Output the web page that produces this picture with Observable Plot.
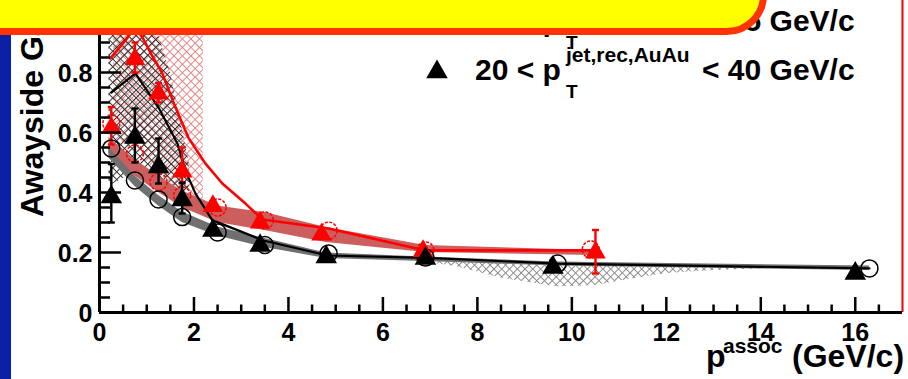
<!DOCTYPE html>
<html><head><meta charset="utf-8">
<script src="https://cdn.jsdelivr.net/npm/d3@7"></script>
<script src="https://cdn.jsdelivr.net/npm/@observablehq/plot@0.6"></script>
<style>
html,body{margin:0;padding:0;background:#fff;overflow:hidden;}
svg{display:block;}
</style></head><body><div id="chart"></div>
<script>
// ---------- data ----------
// Au+Au, 10 < pT(jet) < 15 GeV/c : red filled triangles
const redTriX  = [0.25, 0.75, 1.25, 1.75, 2.4, 3.4, 4.7, 6.85, 10.5];
const redTriY  = [0.615, 0.845, 0.73, 0.47, 0.355, 0.30, 0.26, 0.205, 0.20];
const redTriLo = [0.56, 0.80, 0.70, 0.43, 0.34, 0.29, 0.25, 0.195, 0.13];
const redTriHi = [0.685, 0.90, 0.765, 0.55, 0.37, 0.31, 0.27, 0.215, 0.275];
// red open circles
const redCircX = [0.25, 0.75, 1.25, 1.75, 2.5, 3.5, 4.85, 6.9, 10.4];
const redCircY = [0.63, 0.53, 0.435, 0.39, 0.35, 0.307, 0.273, 0.207, 0.21];
// 20 < pT(jet) < 40 GeV/c : black filled triangles
const blkTriX  = [0.25, 0.75, 1.25, 1.75, 2.4, 3.4, 4.8, 6.9, 9.6, 16.0];
const blkTriY  = [0.385, 0.583, 0.485, 0.375, 0.273, 0.223, 0.185, 0.18, 0.15, 0.13];
const blkTriLo = [0.30, 0.50, 0.43, 0.33, 0.262, 0.215, 0.178, 0.172, 0.143, 0.124];
const blkTriHi = [0.495, 0.68, 0.58, 0.433, 0.285, 0.232, 0.192, 0.188, 0.157, 0.137];
// black open circles
const blkCircX = [0.25, 0.75, 1.25, 1.75, 2.5, 3.5, 4.85, 6.9, 9.7, 16.3];
const blkCircY = [0.547, 0.44, 0.377, 0.318, 0.267, 0.225, 0.197, 0.183, 0.163, 0.147];
// red curve
const redLineX = [0.23, 0.55, 0.75, 0.91, 1.1, 1.33, 1.61, 1.88, 2.24, 2.6, 3.09, 3.45, 4.85, 6.9, 10.5];
const redLineY = [0.847, 0.907, 0.95, 0.917, 0.86, 0.797, 0.683, 0.583, 0.497, 0.43, 0.363, 0.31, 0.28, 0.207, 0.207];
// black curve
const blkLineX = [0.25, 0.76, 1.25, 1.65, 1.82, 2.03, 2.39, 2.56, 3.47, 4.83, 6.94, 9.7, 16.3];
const blkLineY = [0.733, 0.797, 0.683, 0.563, 0.473, 0.397, 0.307, 0.297, 0.24, 0.19, 0.182, 0.163, 0.147];
// red systematic band (solid)
const redBandX  = [0.2, 0.75, 1.25, 1.75, 2.5, 3.5, 4.8, 6.9, 10.5];
const redBandLo = [0.53, 0.455, 0.40, 0.35, 0.30, 0.273, 0.233, 0.20, 0.19];
const redBandHi = [0.583, 0.51, 0.455, 0.405, 0.355, 0.333, 0.283, 0.223, 0.207];
// gray systematic band (solid)
const grayBandX  = [0.2, 0.75, 1.25, 1.75, 2.5, 3.5, 4.8, 6.9, 9.7, 16.3];
const grayBandLo = [0.515, 0.42, 0.355, 0.30, 0.255, 0.217, 0.18, 0.17, 0.155, 0.14];
const grayBandHi = [0.55, 0.455, 0.39, 0.335, 0.285, 0.247, 0.198, 0.185, 0.168, 0.155];
// hatched systematic regions
const blkHatchX  = [0.2, 0.75, 1.1, 1.5, 1.9];
const blkHatchLo = [0.42, 0.47, 0.43, 0.38, 0.33];
const blkHatchHi = [1.0, 1.0, 1.0, 0.8, 0.5];
const redHatchX  = [0.3, 0.75, 1.1, 1.75, 2.2];
const redHatchLo = [0.58, 0.55, 0.48, 0.40, 0.355];
const redHatchHi = [1.0, 1.0, 1.0, 1.0, 1.0];
const grayHatchX  = [5.2, 6.5, 7.5, 8.5, 9.7, 10.5, 11.2, 12, 13, 14.5];
const grayHatchLo = [0.19, 0.175, 0.155, 0.115, 0.085, 0.09, 0.11, 0.13, 0.14, 0.148];
const grayHatchHi = [0.195, 0.185, 0.178, 0.168, 0.163, 0.162, 0.16, 0.158, 0.155, 0.152];
// axis ticks
const xTickLabels = [0, 2, 4, 6, 8, 10, 12, 14, 16];
const yTickLabels = [0, 0.2, 0.4, 0.6, 0.8];

// ---------- tables ----------
const pts = (X, Y, Lo, Hi) => X.map((x, i) => ({x, y: Y ? Y[i] : undefined, lo: Lo ? Lo[i] : undefined, hi: Hi ? Hi[i] : undefined}));
const band = (X, Lo, Hi) => X.map((x, i) => ({x, lo: Lo[i], hi: Hi[i]}));
const redTri = pts(redTriX, redTriY, redTriLo, redTriHi);
const blkTri = pts(blkTriX, blkTriY, blkTriLo, blkTriHi);
const redCirc = pts(redCircX, redCircY);
const blkCirc = pts(blkCircX, blkCircY);
const redLine = pts(redLineX, redLineY);
const blkLine = pts(blkLineX, blkLineY);

const xMinor = d3.range(0.5, 17, 0.5).filter(v => v % 2 !== 0);
const yMinor = d3.range(0.05, 1.0001, 0.05).filter(v => Math.abs(v * 5 - Math.round(v * 5)) > 1e-6);
const yMajor = [0, 0.2, 0.4, 0.6, 0.8, 1.0];

const capSymbol = {draw(ctx, size) { const w = Math.sqrt(size / Math.PI); ctx.moveTo(-w, 0); ctx.lineTo(w, 0); }};
const RED = "#ff0000";
const FONT = "'Liberation Sans', Arial, Helvetica, sans-serif";
const pxX = 803 / 17, pxY = 300; // pixels per unit (for tick lengths)

const plot = Plot.plot({
  width: 908, height: 379,
  marginLeft: 99, marginRight: 6, marginTop: 12, marginBottom: 67,
  x: {domain: [0, 17], axis: null},
  y: {domain: [0, 1], axis: null},
  style: {fontFamily: FONT, background: "white", overflow: "visible"},
  marks: [
    Plot.areaY(band(redHatchX, redHatchLo, redHatchHi), {x: "x", y1: "lo", y2: "hi", fill: "url(#hatchRed)", clip: true}),
    Plot.areaY(band(blkHatchX, blkHatchLo, blkHatchHi), {x: "x", y1: "lo", y2: "hi", fill: "url(#hatchBlack)", clip: true}),
    Plot.areaY(band(grayHatchX, grayHatchLo, grayHatchHi), {x: "x", y1: "lo", y2: "hi", fill: "url(#hatchGray)", clip: true}),
    Plot.areaY(band(redBandX, redBandLo, redBandHi), {x: "x", y1: "lo", y2: "hi", fill: "#cc5e5e"}),
    Plot.areaY(band(grayBandX, grayBandLo, grayBandHi), {x: "x", y1: "lo", y2: "hi", fill: "#707070"}),
    Plot.line(redLine, {x: "x", y: "y", stroke: RED, strokeWidth: 2.6, clip: true}),
    Plot.line(blkLine, {x: "x", y: "y", stroke: "black", strokeWidth: 2.2, clip: true}),
    // red error bars
    Plot.ruleX(redTri, {x: "x", y1: "lo", y2: "hi", stroke: RED, strokeWidth: 2.4}),
    Plot.dot(redTri, {x: "x", y: "hi", symbol: capSymbol, r: 3.5, stroke: RED, strokeWidth: 2.4}),
    Plot.dot(redTri, {x: "x", y: "lo", symbol: capSymbol, r: 3.5, stroke: RED, strokeWidth: 2.4}),
    Plot.dot(redCirc, {x: "x", y: "y", r: 8.5, stroke: RED, strokeWidth: 1.5, strokeDasharray: "3,1.5", fill: "none"}),
    Plot.dot(blkCirc, {x: "x", y: "y", r: 8.5, stroke: "black", strokeWidth: 1.5, fill: "none"}),
    Plot.dot(redTri, {x: "x", y: "y", symbol: "triangle", r: 7.6, fill: RED, stroke: "none"}),
    // black error bars
    Plot.ruleX(blkTri, {x: "x", y1: "lo", y2: "hi", stroke: "black", strokeWidth: 2.4}),
    Plot.dot(blkTri, {x: "x", y: "hi", symbol: capSymbol, r: 3.5, stroke: "black", strokeWidth: 2.4}),
    Plot.dot(blkTri, {x: "x", y: "lo", symbol: capSymbol, r: 3.5, stroke: "black", strokeWidth: 2.4}),
    Plot.dot(blkTri, {x: "x", y: "y", symbol: "triangle", r: 8, fill: "black", stroke: "none"}),
    // frame / axes
    Plot.ruleX([17], {y1: 0, y2: 1.05, stroke: "#ee0000", strokeWidth: 2}),
    Plot.ruleY([0], {x1: 0, x2: 17, stroke: "black", strokeWidth: 3}),
    Plot.ruleX([0], {y1: 0, y2: 1.05, stroke: "black", strokeWidth: 3}),
    Plot.ruleX(xTickLabels, {x: d => d, y1: 0, y2: 15 / pxY, stroke: "black", strokeWidth: 2.5}),
    Plot.ruleX(xMinor, {x: d => d, y1: 0, y2: 7.5 / pxY, stroke: "black", strokeWidth: 2.5}),
    Plot.ruleY(yMajor, {y: d => d, x1: 0, x2: 22 / pxX, stroke: "black", strokeWidth: 2.5}),
    Plot.ruleY(yMinor, {y: d => d, x1: 0, x2: 11 / pxX, stroke: "black", strokeWidth: 2.5}),
    Plot.text(xTickLabels, {x: d => d, y: 0, dy: 20, text: d => String(d), fontSize: 25, fontWeight: "bold", fill: "black"}),
    Plot.text(yTickLabels, {x: 0, y: d => d, dx: -7, dy: 1, text: d => String(d), textAnchor: "end", fontSize: 25, fontWeight: "bold", fill: "black"})
  ]
});

document.getElementById("chart").appendChild(plot);
const svg = d3.select(plot);

// hatch patterns
const defs = svg.insert("defs", ":first-child");
function hatch(id, color, w, s) {
  const p = defs.append("pattern").attr("id", id).attr("patternUnits", "userSpaceOnUse")
    .attr("width", s).attr("height", s).attr("patternTransform", "rotate(45)");
  p.append("path").attr("d", `M0 0.5H${s}M0.5 0V${s}`).attr("stroke", color).attr("stroke-width", w).attr("fill", "none");
}
hatch("hatchBlack", "#303030", 1.0, 5.5);
hatch("hatchRed", "#e47a7a", 0.9, 6);
hatch("hatchGray", "#8a8a8a", 1.0, 5.5);

const g = svg.append("g").attr("font-family", FONT).attr("font-weight", "bold")
  .attr("fill", "black").attr("text-anchor", "start");

// y-axis title
g.append("text").attr("text-anchor", "start").attr("transform", "translate(43,217) rotate(-90)")
  .attr("font-size", 32).text("Awayside Gaussian Yield");

// x-axis title
g.append("text").attr("x", 706).attr("y", 367).attr("font-size", 32).text("p");
g.append("text").attr("x", 723).attr("y", 353).attr("font-size", 21).text("assoc");
g.append("text").attr("x", 716).attr("y", 392).attr("font-size", 19).text("T");
g.append("text").attr("x", 792).attr("y", 367).attr("font-size", 32).text("(GeV/c)");

// legend
function legendRow(base, color, lo, hi) {
  g.append("path").attr("d", d3.symbol(d3.symbolTriangle, 64 * Math.PI)()).attr("fill", color)
    .attr("transform", `translate(437,${base - 8})`);
  g.append("text").attr("x", 475).attr("y", base).attr("font-size", 30).text(`${lo} < p`);
  g.append("text").attr("x", 566).attr("y", base - 18).attr("font-size", 21).text("jet,rec,AuAu");
  g.append("text").attr("x", 566).attr("y", base + 18).attr("font-size", 19).text("T");
  g.append("text").attr("x", 702).attr("y", base).attr("font-size", 30).text(`< ${hi} GeV/c`);
}
legendRow(31, RED, 10, 15);
legendRow(80, "black", 20, 40);

// blue slide strip on the left
svg.append("rect").attr("x", 0).attr("y", 30).attr("width", 11).attr("height", 360).attr("fill", "#0b20a4");

// yellow banner on top
const r = 36.5;
svg.append("path")
  .attr("d", `M-10 -20 H763.5 V-5 A${r} ${r} 0 0 1 727 31.5 H-10 Z`)
  .attr("fill", "#ffff00").attr("stroke", "#ff3300").attr("stroke-width", 7);
svg.append("text").attr("x", 18).attr("y", -9).attr("text-anchor", "start")
  .attr("font-family", FONT).attr("font-weight", "bold")
  .attr("font-size", 36).attr("fill", "#e00000").text("Jets: enhanced, broadened away-side at low p");
</script></body></html>
